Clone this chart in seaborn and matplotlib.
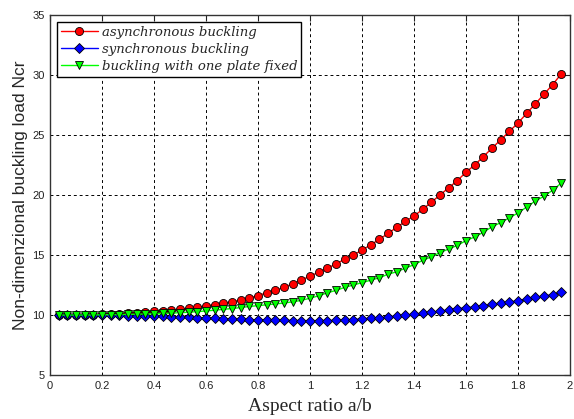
import numpy as np
import pandas as pd
import matplotlib
matplotlib.use("Agg")
import matplotlib.pyplot as plt
import seaborn as sns

# Aspect ratio samples (step 1/30)
aspect_ratio = [round(k / 30, 4) for k in range(1, 60)]

# Values
asynchronous = [10.0, 10.0, 10.0, 10.02, 10.03, 10.05, 10.08, 10.11, 10.15, 10.2, 10.25,
                10.3, 10.35, 10.4, 10.47, 10.55, 10.65, 10.75, 10.87, 10.98, 11.1, 11.25,
                11.42, 11.62, 11.85, 12.05, 12.3, 12.6, 12.9, 13.25, 13.55, 13.9, 14.25,
                14.65, 15.0, 15.4, 15.85, 16.3, 16.8, 17.3, 17.8, 18.25, 18.8, 19.4,
                20.0, 20.6, 21.2, 21.9, 22.5, 23.2, 23.9, 24.6, 25.3, 26.0, 26.8,
                27.6, 28.4, 29.2, 30.1]
synchronous = [10.0, 10.0, 10.0, 9.99, 9.99, 9.98, 9.97, 9.96, 9.95, 9.93, 9.92,
               9.9, 9.88, 9.85, 9.83, 9.8, 9.78, 9.75, 9.72, 9.7, 9.67, 9.64,
               9.62, 9.6, 9.58, 9.56, 9.55, 9.54, 9.53, 9.53, 9.53, 9.54, 9.55,
               9.58, 9.62, 9.67, 9.72, 9.78, 9.85, 9.92, 9.99, 10.06, 10.14, 10.22,
               10.32, 10.42, 10.52, 10.6, 10.68, 10.77, 10.88, 10.97, 11.06, 11.2, 11.33,
               11.46, 11.58, 11.7, 11.88]
one_plate_fixed = [10.0, 10.0, 10.0, 10.0, 10.01, 10.02, 10.03, 10.04, 10.05, 10.07, 10.09,
                   10.11, 10.13, 10.16, 10.19, 10.23, 10.28, 10.34, 10.4, 10.47, 10.54, 10.62,
                   10.71, 10.78, 10.85, 10.92, 11.0, 11.1, 11.22, 11.4, 11.6, 11.85, 12.05,
                   12.3, 12.5, 12.7, 12.9, 13.1, 13.4, 13.6, 13.9, 14.2, 14.55, 14.85,
                   15.2, 15.5, 15.8, 16.2, 16.5, 16.9, 17.35, 17.7, 18.1, 18.5, 19.0,
                   19.5, 19.9, 20.4, 21.0]

labels = ["asynchronous buckling", "synchronous buckling", "buckling with one plate fixed"]
colors = ["#ff0000", "#0000ff", "#00ff00"]
markers = ["o", "D", "v"]

df = pd.concat([
    pd.DataFrame({"a/b": aspect_ratio, "Ncr": vals, "case": lab})
    for vals, lab in zip([asynchronous, synchronous, one_plate_fixed], labels)
])

sns.set_style("white")
plt.rcParams["font.family"] = ["Liberation Sans", "DejaVu Sans"]

fig = plt.figure(figsize=(5.74, 4.19), dpi=100)
ax = fig.add_axes([50 / 574, 1 - 375 / 419, 520 / 574, 360 / 419])

sns.lineplot(data=df, x="a/b", y="Ncr", hue="case", style="case",
             hue_order=labels, style_order=labels,
             palette=dict(zip(labels, colors)), markers=dict(zip(labels, markers)),
             dashes=False, linewidth=1.0, markersize=5.8, markeredgecolor="black",
             markeredgewidth=0.6, ax=ax)
# diamonds a touch smaller
for ln in ax.get_lines():
    if ln.get_marker() == "D":
        ln.set_markersize(5.0)

ax.set_xlim(0, 2)
ax.set_ylim(5, 35)
ax.set_xticks(np.arange(0, 2.01, 0.2))
ax.set_xticklabels(["0", "0.2", "0.4", "0.6", "0.8", "1", "1.2", "1.4", "1.6", "1.8", "2"])
ax.set_yticks(np.arange(5, 36, 5))
ax.tick_params(direction="in", length=4, width=0.8, top=True, right=True,
               labelsize=8, colors="#222222", pad=4)
ax.grid(True, color="black", linestyle=(0, (3, 3)), linewidth=0.7)
for s in ax.spines.values():
    s.set_color("#333333")
    s.set_linewidth(1.0)

ax.set_xlabel("Aspect ratio a/b", family=["Liberation Serif"], fontsize=14, labelpad=5)
ax.set_ylabel("Non-dimenzional buckling load Ncr", fontsize=12.5, labelpad=3)

leg = ax.legend(loc="upper left", bbox_to_anchor=(0.013, 0.981), frameon=True,
                fancybox=False, edgecolor="black", framealpha=1,
                prop={"family": "DejaVu Serif", "style": "italic", "size": 9.5},
                handlelength=2.8, labelspacing=0.3, borderpad=0.3, handletextpad=0.3,
                borderaxespad=0)
leg.get_frame().set_linewidth(1.0)
for h in leg.legend_handles:
    if h.get_marker() == "D":
        h.set_markersize(5.0)

fig.savefig("out.png", dpi=100)
